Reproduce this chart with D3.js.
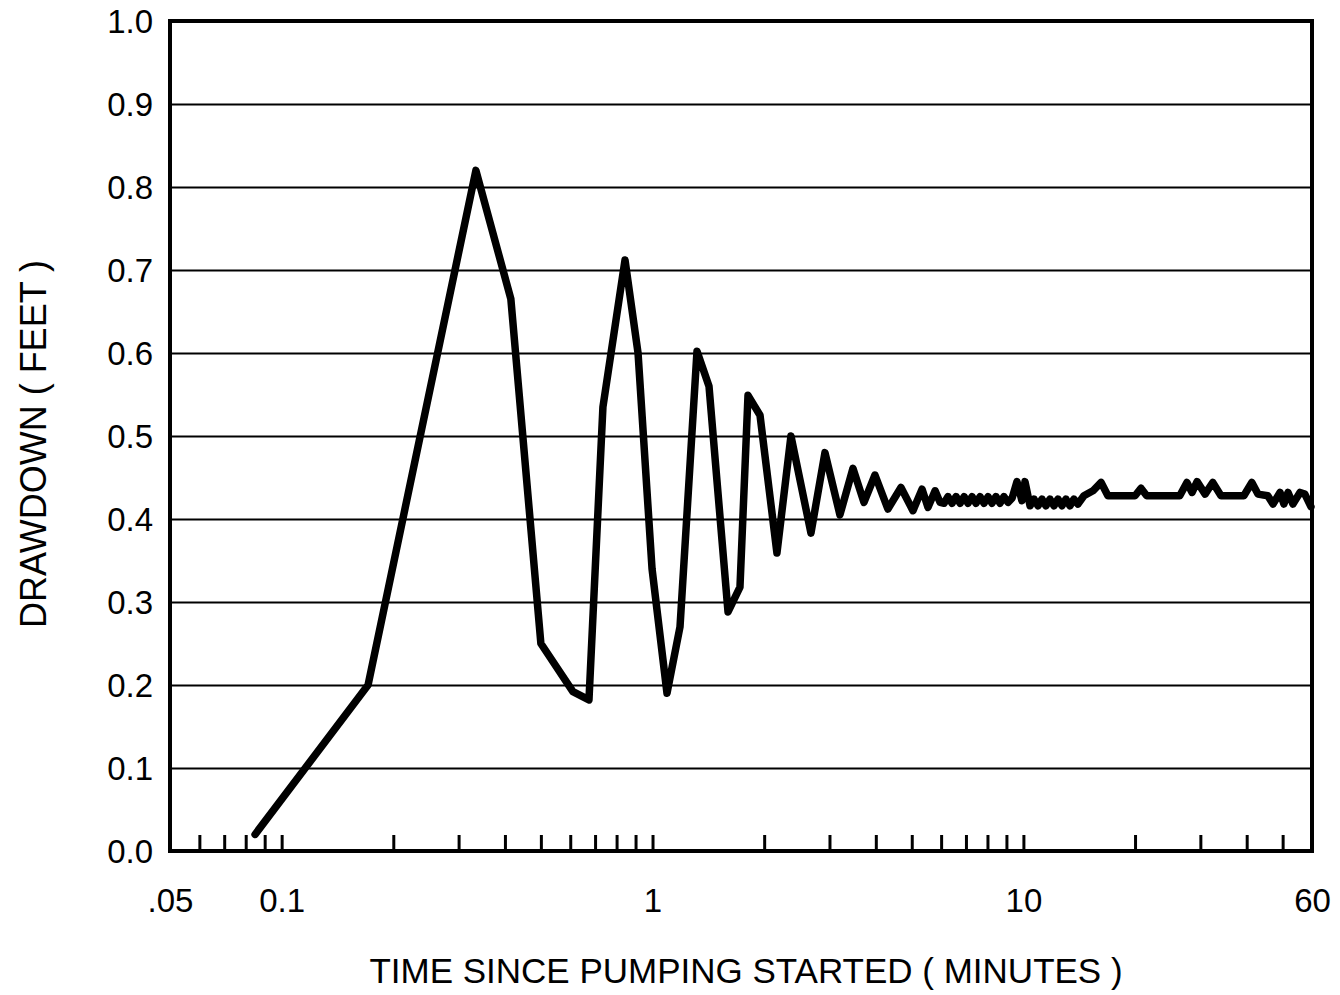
<!DOCTYPE html>
<html>
<head>
<meta charset="utf-8">
<script src="https://cdn.jsdelivr.net/npm/d3@7/dist/d3.min.js"></script>
<style>
  html, body { margin: 0; padding: 0; background: #fff; }
  svg { display: block; }
  text { font-family: "Liberation Sans", Arial, Helvetica, sans-serif; fill: #000; }
</style>
</head>
<body>
<svg id="chart" width="1340" height="995"></svg>
<script>
// ---- data ----
const minutes = [
  0.0848, 0.171, 0.334, 0.415, 0.500, 0.610, 0.674, 0.735, 0.843, 0.914,
  0.997, 1.094, 1.186, 1.318, 1.420, 1.598, 1.721, 1.809, 1.949, 2.165,
  2.362, 2.674, 2.917, 3.201, 3.471, 3.716, 3.979, 4.312, 4.676, 5.037,
  5.33, 5.53, 5.78, 5.96,
  6.11, 6.26, 6.42, 6.58, 6.75, 6.92, 7.09, 7.27, 7.45, 7.64,
  7.83, 8.03, 8.23, 8.43, 8.65, 8.86, 9.09, 9.32, 9.61, 9.91,
  10.1, 10.42, 10.68, 10.95, 11.22, 11.50, 11.79, 12.09, 12.39, 12.71,
  13.02, 13.35, 13.68, 14.03, 14.56, 15.4, 16.2, 16.9, 20.0, 20.75,
  21.5, 26.4, 27.6, 28.5, 29.4, 30.9, 32.4, 34.1, 39.3, 41.3,
  42.9, 45.6, 47.1, 49.2, 50.4, 51.7, 53.3, 55.7, 57.4, 59.6
];
const drawdownFeet = [
  0.02, 0.20, 0.82, 0.665, 0.25, 0.192, 0.182, 0.535, 0.712, 0.60,
  0.34, 0.19, 0.27, 0.602, 0.56, 0.288, 0.318, 0.549, 0.525, 0.359,
  0.50, 0.383, 0.48, 0.405, 0.461, 0.42, 0.453, 0.412, 0.438, 0.41,
  0.436, 0.414, 0.434, 0.42,
  0.419, 0.427, 0.419, 0.427, 0.419, 0.427, 0.419, 0.427, 0.419, 0.427,
  0.419, 0.427, 0.419, 0.427, 0.419, 0.427, 0.42, 0.425, 0.445, 0.422,
  0.445, 0.416, 0.424, 0.416, 0.424, 0.416, 0.424, 0.416, 0.424, 0.416,
  0.424, 0.416, 0.424, 0.418, 0.428, 0.434, 0.444, 0.428, 0.428, 0.437,
  0.428, 0.428, 0.444, 0.432, 0.445, 0.43, 0.444, 0.428, 0.428, 0.444,
  0.43, 0.428, 0.418, 0.432, 0.418, 0.432, 0.418, 0.432, 0.43, 0.415
];
const yTickValues = [0, 0.1, 0.2, 0.3, 0.4, 0.5, 0.6, 0.7, 0.8, 0.9, 1.0];
const yTickLabels = ["0.0", "0.1", "0.2", "0.3", "0.4", "0.5", "0.6", "0.7", "0.8", "0.9", "1.0"];
const xLabelValues = [0.05, 0.1, 1, 10, 60];
const xLabelText = [".05", "0.1", "1", "10", "60"];
const xMinorTicks = [0.06, 0.07, 0.08, 0.09, 0.1, 0.2, 0.3, 0.4, 0.5, 0.6, 0.7, 0.8, 0.9,
                     1, 2, 3, 4, 5, 6, 7, 8, 9, 10, 20, 30, 40, 50];
const xTitle = "TIME SINCE PUMPING STARTED ( MINUTES )";
const yTitle = "DRAWDOWN ( FEET )";

// ---- layout ----
const W = 1340, H = 995;
const margin = { left: 170, right: 28, top: 21, bottom: 144 };
const innerW = W - margin.left - margin.right;
const innerH = H - margin.top - margin.bottom;

const svg = d3.select("#chart");
const g = svg.append("g").attr("transform", `translate(${margin.left},${margin.top})`);

const x = d3.scaleLog().domain([0.05, 60]).range([0, innerW]);
const y = d3.scaleLinear().domain([0, 1]).range([innerH, 0]);

// horizontal grid lines
g.append("g")
  .call(d3.axisLeft(y).tickValues(yTickValues.slice(1, -1)).tickSize(-innerW).tickFormat(""))
  .call(a => a.select(".domain").remove())
  .call(a => a.selectAll("line").attr("stroke", "#000").attr("stroke-width", 2));

// y tick labels
g.append("g")
  .call(d3.axisLeft(y).tickValues(yTickValues).tickSize(0).tickPadding(17)
    .tickFormat((d, i) => yTickLabels[i]))
  .call(a => a.select(".domain").remove())
  .call(a => a.selectAll("text").attr("font-size", 33).attr("fill", "#000")
    .attr("dy", "0.34em")
    .attr("font-family", "'Liberation Sans', Arial, sans-serif"));

// x minor ticks (inside, pointing up)
g.append("g")
  .attr("transform", `translate(0,${innerH})`)
  .call(d3.axisBottom(x).tickValues(xMinorTicks).tickSize(-16).tickFormat(""))
  .call(a => a.select(".domain").remove())
  .call(a => a.selectAll("line").attr("stroke", "#000").attr("stroke-width", 3));

// x labels
g.append("g")
  .attr("transform", `translate(0,${innerH})`)
  .call(d3.axisBottom(x).tickValues(xLabelValues).tickSize(0).tickPadding(38)
    .tickFormat((d, i) => xLabelText[i]))
  .call(a => a.select(".domain").remove())
  .call(a => a.selectAll("text").attr("font-size", 33).attr("fill", "#000")
    .attr("font-family", "'Liberation Sans', Arial, sans-serif"));

// frame
g.append("rect")
  .attr("x", 0).attr("y", 0).attr("width", innerW).attr("height", innerH)
  .attr("fill", "none").attr("stroke", "#000").attr("stroke-width", 4);

// data line
const pts = minutes.map((t, i) => [t, drawdownFeet[i]]);
g.append("path")
  .datum(pts)
  .attr("fill", "none")
  .attr("stroke", "#000")
  .attr("stroke-width", 7.5)
  .attr("stroke-linejoin", "round")
  .attr("stroke-linecap", "round")
  .attr("d", d3.line().x(d => x(d[0])).y(d => y(d[1])));

// axis titles
svg.append("text")
  .attr("x", 746).attr("y", 983)
  .attr("text-anchor", "middle")
  .attr("font-size", 35)
  .text(xTitle);

svg.append("text")
  .attr("transform", `translate(46,${margin.top + innerH / 2 + 8}) rotate(-90)`)
  .attr("text-anchor", "middle")
  .attr("font-size", 36)
  .text(yTitle);
</script>
</body>
</html>
